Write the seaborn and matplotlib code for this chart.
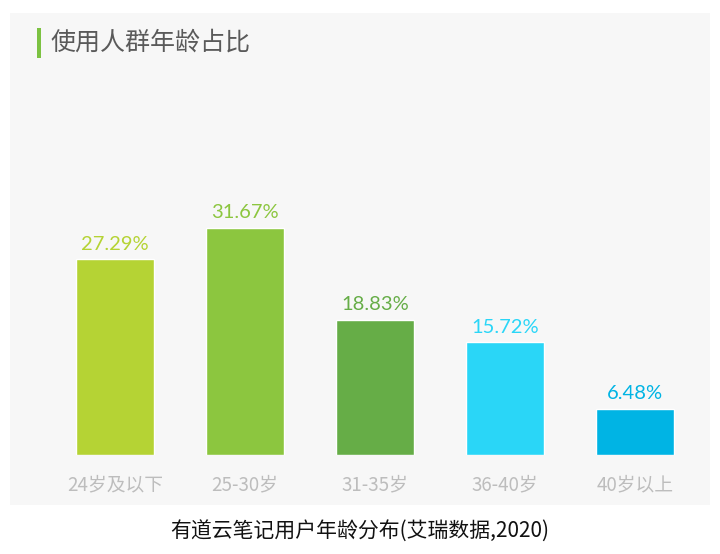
import matplotlib
matplotlib.use("Agg")
import matplotlib.pyplot as plt
import seaborn as sns
import pandas as pd
from matplotlib.patches import Rectangle

categories = ["24岁及以下", "25-30岁", "31-35岁", "36-40岁", "40岁以上"]
values = [27.29, 31.67, 18.83, 15.72, 6.48]
labels = ["27.29%", "31.67%", "18.83%", "15.72%", "6.48%"]
colors = ["#b5d334", "#8cc63f", "#66ad47", "#2ad6f7", "#00b4e4"]
title = "使用人群年龄占比"
caption = "有道云笔记用户年龄分布(艾瑞数据,2020)"

sns.set_style("white")
plt.rcParams['font.family'] = ['Noto Sans CJK SC', 'DejaVu Sans']

W, H = 720, 554
fig = plt.figure(figsize=(W / 100, H / 100), dpi=100)
fig.patch.set_facecolor("white")

# panel background
fig.patches.append(Rectangle((10 / W, 1 - 505 / H), 700 / W, (505 - 13) / H,
                             transform=fig.transFigure, facecolor="#f7f7f7",
                             edgecolor="none", zorder=-2))
# title accent bar
fig.patches.append(Rectangle((37 / W, 1 - 58 / H), 4 / W, 30 / H,
                             transform=fig.transFigure, facecolor="#7cc242",
                             edgecolor="none", zorder=-1))
fig.text(50 / W, 1 - 43 / H, title, fontsize=18, color="#5a5a5a",
         va="center", ha="left")

ax = fig.add_axes([50 / W, 1 - 455 / H, 650 / W, (455 - 168) / H])
ax.set_zorder(2)
ax.set_facecolor("none")
df = pd.DataFrame({"cat": categories, "val": values})
sns.barplot(data=df, x="cat", y="val", hue="cat", palette=colors,
            width=0.6, legend=False, ax=ax, saturation=1)
ax.set_ylim(0, 40)
ax.set_xlim(-0.5, 4.5)
for i, (v, lab) in enumerate(zip(values, labels)):
    ax.text(i, v + 0.9, lab, ha="center", va="bottom", fontsize=14.5,
            color=colors[i], family=["Lato", "DejaVu Sans"])
ax.set_xlabel("")
ax.set_ylabel("")
ax.set_yticks([])
ax.tick_params(axis="x", length=0, pad=14, labelsize=13.5, labelcolor="#bdbdbd")
for s in ax.spines.values():
    s.set_visible(False)

fig.text(0.5, 1 - 532 / H, caption, fontsize=15, color="#111111",
         ha="center", va="center")

fig.savefig("out.png", dpi=100)
